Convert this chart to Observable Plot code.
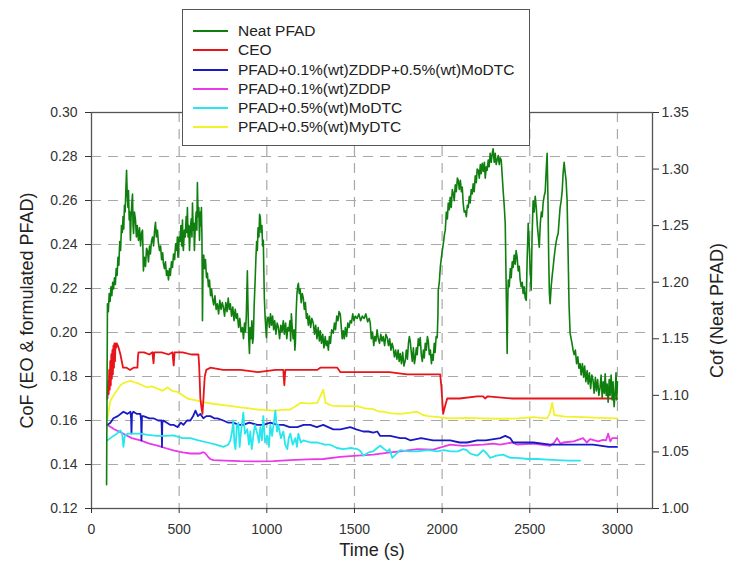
<!DOCTYPE html>
<html>
<head>
<meta charset="utf-8">
<script src="https://cdn.jsdelivr.net/npm/d3@7"></script>
<script src="https://cdn.jsdelivr.net/npm/@observablehq/plot@0.6"></script>
<style>
  html, body { margin: 0; padding: 0; background: white; }
  #wrap { position: relative; width: 729px; height: 571px; font-family: "Liberation Sans", Arial, sans-serif; }
  #legend { position: absolute; left: 182px; top: 9px; width: 346px; height: 135px; border: 1.5px solid #555; background: white; }
  .row { position: absolute; left: 0; height: 19px; display: flex; align-items: center; font-size: 15.5px; color: #222; }
  .sw { width: 35px; height: 2px; margin-left: 10px; margin-right: 10px; }
</style>
</head>
<body>
<div id="wrap"><div id="chart"></div><div id="legend"></div></div>
<script>
// ---------- data ----------
const seriesNames = ["Neat PFAD", "CEO", "PFAD+0.1%(wt)ZDDP+0.5%(wt)MoDTC", "PFAD+0.1%(wt)ZDDP", "PFAD+0.5%(wt)MoDTC", "PFAD+0.5%(wt)MyDTC"];
const seriesColors = ["#0f7f0f", "#e8141a", "#1a1ac4", "#e83ae8", "#28e6ee", "#f2f22a"];

const xTicks = [0, 500, 1000, 1500, 2000, 2500, 3000];
const leftTicks = [0.12, 0.14, 0.16, 0.18, 0.20, 0.22, 0.24, 0.26, 0.28, 0.30];
const rightTicks = [1.00, 1.05, 1.10, 1.15, 1.20, 1.25, 1.30, 1.35];

// Neat PFAD (right axis units)
const neatT = [86,91,96,101,106,111,116,121,126,131,136,141,146,151,156,161,166,171,176,180,184,188,192,196,200,204,208,211,215,219,222,226,230,234,237,240,245,251,256,261,268,274,280,286,291,294,296,302,308,314,319,325,331,336,342,348,354,360,365,370,376,382,388,394,400,406,410,416,422,428,434,439,445,450,456,462,468,474,480,486,490,493,496,500,505,510,515,519,522,524,530,535,540,544,547,551,555,559,564,569,573,576,580,584,587,592,597,601,604,608,612,616,620,624,627,630,633,636,640,645,650,656,661,667,673,679,685,690,697,704,711,718,725,732,739,746,752,759,766,773,780,786,792,799,806,813,820,826,832,839,846,853,861,867,873,878,883,889,893,897,901,905,910,915,919,923,928,933,938,942,946,950,955,959,963,967,972,976,980,983,986,990,994,998,1003,1009,1015,1021,1027,1033,1039,1045,1052,1059,1066,1073,1080,1087,1094,1100,1107,1114,1120,1126,1132,1136,1140,1145,1150,1156,1160,1163,1167,1172,1176,1180,1185,1190,1196,1202,1208,1214,1220,1226,1231,1237,1243,1250,1257,1265,1272,1279,1286,1293,1300,1305,1312,1319,1326,1333,1339,1345,1351,1357,1363,1370,1379,1386,1392,1399,1406,1412,1419,1425,1430,1436,1442,1448,1455,1462,1469,1476,1483,1490,1497,1505,1515,1525,1535,1545,1555,1565,1575,1584,1590,1596,1603,1610,1616,1622,1629,1636,1643,1650,1657,1664,1672,1679,1687,1694,1701,1708,1715,1721,1728,1735,1742,1749,1755,1761,1768,1775,1782,1790,1796,1802,1808,1813,1818,1824,1830,1836,1842,1847,1853,1858,1864,1869,1875,1881,1887,1893,1898,1904,1910,1916,1921,1927,1933,1939,1944,1949,1955,1960,1966,1972,1976,1978,1984,1990,1996,2001,2007,2013,2018,2024,2030,2035,2041,2046,2052,2058,2064,2069,2075,2081,2087,2092,2098,2104,2110,2115,2120,2126,2132,2138,2144,2149,2155,2160,2166,2172,2177,2183,2189,2195,2200,2206,2212,2218,2223,2229,2235,2241,2246,2252,2257,2263,2268,2274,2280,2286,2291,2297,2303,2308,2314,2320,2326,2331,2337,2342,2348,2354,2360,2365,2371,2374,2377,2383,2389,2394,2400,2405,2411,2417,2422,2428,2434,2440,2445,2451,2457,2462,2468,2474,2480,2485,2491,2496,2502,2508,2513,2519,2525,2531,2537,2543,2549,2554,2560,2566,2571,2576,2582,2588,2594,2599,2604,2608,2612,2616,2622,2628,2633,2639,2645,2651,2656,2662,2668,2673,2679,2685,2690,2696,2701,2707,2713,2718,2724,2730,2736,2741,2747,2753,2760,2767,2774,2780,2787,2793,2800,2807,2813,2820,2827,2833,2840,2847,2854,2861,2867,2874,2880,2887,2894,2901,2907,2913,2919,2925,2930,2936,2941,2947,2953,2958,2964,2970,2975,2981,2987,2992,2996,3000];
const neatV = [1.021,1.181,1.174,1.190,1.183,1.196,1.188,1.200,1.194,1.204,1.198,1.212,1.206,1.222,1.215,1.236,1.228,1.250,1.244,1.258,1.247,1.268,1.262,1.282,1.299,1.276,1.266,1.281,1.255,1.262,1.237,1.258,1.270,1.278,1.250,1.243,1.262,1.255,1.240,1.250,1.237,1.248,1.232,1.244,1.246,1.226,1.210,1.222,1.214,1.230,1.228,1.218,1.232,1.225,1.236,1.240,1.232,1.246,1.253,1.240,1.246,1.234,1.228,1.232,1.220,1.226,1.217,1.212,1.218,1.206,1.210,1.202,1.212,1.206,1.218,1.213,1.225,1.220,1.234,1.228,1.240,1.222,1.225,1.240,1.236,1.250,1.232,1.255,1.232,1.228,1.246,1.240,1.258,1.244,1.266,1.240,1.250,1.228,1.248,1.256,1.240,1.270,1.246,1.252,1.228,1.250,1.262,1.246,1.288,1.258,1.266,1.237,1.262,1.250,1.266,1.240,1.166,1.214,1.224,1.212,1.220,1.204,1.208,1.196,1.202,1.188,1.194,1.186,1.180,1.188,1.176,1.181,1.172,1.184,1.176,1.182,1.178,1.170,1.182,1.174,1.186,1.176,1.181,1.170,1.178,1.166,1.176,1.168,1.172,1.160,1.168,1.156,1.160,1.150,1.164,1.156,1.170,1.210,1.176,1.150,1.137,1.160,1.150,1.166,1.146,1.151,1.180,1.200,1.222,1.236,1.228,1.248,1.240,1.260,1.257,1.244,1.250,1.232,1.237,1.210,1.186,1.170,1.160,1.151,1.168,1.169,1.160,1.172,1.162,1.170,1.158,1.166,1.154,1.164,1.160,1.150,1.162,1.156,1.166,1.154,1.164,1.150,1.160,1.157,1.166,1.148,1.172,1.160,1.150,1.158,1.140,1.146,1.172,1.190,1.196,1.199,1.190,1.194,1.182,1.190,1.186,1.176,1.182,1.168,1.172,1.162,1.170,1.160,1.168,1.164,1.154,1.162,1.150,1.160,1.148,1.157,1.146,1.154,1.142,1.152,1.144,1.148,1.140,1.152,1.146,1.158,1.155,1.164,1.158,1.170,1.166,1.174,1.172,1.160,1.150,1.157,1.150,1.160,1.152,1.164,1.160,1.166,1.164,1.172,1.166,1.170,1.168,1.172,1.166,1.170,1.168,1.172,1.165,1.168,1.164,1.150,1.156,1.144,1.152,1.148,1.158,1.150,1.146,1.154,1.148,1.152,1.144,1.154,1.151,1.144,1.150,1.140,1.146,1.142,1.134,1.140,1.132,1.140,1.130,1.137,1.128,1.138,1.126,1.131,1.140,1.132,1.146,1.152,1.148,1.138,1.130,1.142,1.128,1.133,1.142,1.136,1.150,1.144,1.151,1.136,1.130,1.140,1.133,1.146,1.140,1.152,1.148,1.136,1.140,1.128,1.136,1.131,1.146,1.138,1.152,1.151,1.170,1.193,1.200,1.214,1.222,1.228,1.234,1.242,1.246,1.262,1.256,1.270,1.264,1.275,1.266,1.282,1.278,1.272,1.286,1.280,1.292,1.290,1.282,1.290,1.280,1.284,1.270,1.262,1.263,1.258,1.268,1.266,1.276,1.270,1.282,1.278,1.287,1.280,1.294,1.288,1.300,1.299,1.292,1.304,1.296,1.305,1.298,1.306,1.292,1.302,1.299,1.308,1.302,1.314,1.306,1.314,1.318,1.306,1.314,1.304,1.308,1.312,1.304,1.310,1.308,1.296,1.281,1.268,1.252,1.200,1.137,1.180,1.202,1.196,1.212,1.204,1.218,1.213,1.224,1.216,1.228,1.222,1.210,1.214,1.202,1.196,1.200,1.190,1.196,1.186,1.184,1.220,1.252,1.236,1.212,1.193,1.240,1.272,1.262,1.276,1.266,1.250,1.240,1.231,1.252,1.262,1.258,1.270,1.276,1.280,1.300,1.314,1.270,1.220,1.190,1.181,1.196,1.206,1.213,1.222,1.230,1.236,1.240,1.243,1.256,1.266,1.272,1.281,1.296,1.306,1.298,1.290,1.272,1.230,1.180,1.155,1.150,1.146,1.140,1.136,1.140,1.128,1.134,1.124,1.128,1.118,1.128,1.116,1.126,1.112,1.122,1.110,1.120,1.106,1.118,1.113,1.102,1.116,1.104,1.114,1.100,1.107,1.118,1.098,1.112,1.102,1.119,1.100,1.110,1.094,1.114,1.100,1.118,1.096,1.112,1.090,1.102,1.120,1.096,1.112];

// CEO (left axis)
const ceoT = [91,95,98,101,104,107,110,113,116,119,122,125,128,131,134,137,140,145,150,155,165,175,180,200,220,240,262,265,268,300,330,348,351,354,358,400,440,462,465,469,474,520,570,610,614,621,627,633,640,646,655,678,750,850,950,1050,1094,1097,1100,1103,1106,1200,1288,1305,1402,1419,1500,1600,1700,1800,1900,1989,1995,2006,2015,2029,2100,2200,2234,2245,2260,2400,2600,2800,2998];
const ceoV = [0.170,0.178,0.172,0.183,0.174,0.187,0.176,0.190,0.179,0.192,0.181,0.194,0.184,0.195,0.187,0.195,0.193,0.195,0.194,0.193,0.190,0.186,0.184,0.184,0.183,0.184,0.184,0.189,0.191,0.191,0.190,0.191,0.188,0.186,0.191,0.191,0.190,0.191,0.188,0.185,0.191,0.191,0.190,0.190,0.185,0.170,0.166,0.163,0.172,0.180,0.183,0.184,0.183,0.183,0.182,0.183,0.183,0.179,0.176,0.180,0.183,0.183,0.183,0.184,0.184,0.182,0.182,0.182,0.182,0.181,0.181,0.181,0.176,0.163,0.166,0.170,0.170,0.171,0.171,0.170,0.171,0.170,0.170,0.170,0.170];

// PFAD+0.1%(wt)ZDDP+0.5%(wt)MoDTC (left axis)
const zmT = [91,108,125,150,182,205,222,226,228,231,239,260,279,283,285,288,296,330,353,380,399,401,402,404,410,430,450,470,490,510,524,545,564,580,593,607,621,638,655,678,700,718,752,780,809,840,866,900,946,980,1020,1060,1094,1130,1174,1210,1248,1285,1322,1350,1379,1420,1476,1510,1550,1580,1607,1630,1647,1680,1704,1761,1790,1818,1880,1949,2000,2046,2100,2143,2200,2250,2331,2360,2388,2405,2450,2520,2616,2700,2804,2860,2901,2950,2998];
const zmV = [0.158,0.159,0.161,0.162,0.164,0.163,0.164,0.161,0.154,0.163,0.164,0.163,0.163,0.160,0.151,0.162,0.162,0.161,0.161,0.160,0.160,0.156,0.148,0.159,0.160,0.159,0.158,0.158,0.157,0.159,0.158,0.160,0.160,0.162,0.1645,0.162,0.163,0.161,0.162,0.162,0.161,0.161,0.160,0.159,0.159,0.158,0.158,0.159,0.158,0.158,0.159,0.158,0.158,0.157,0.157,0.158,0.158,0.157,0.158,0.157,0.156,0.156,0.157,0.156,0.155,0.155,0.1545,0.155,0.153,0.153,0.153,0.152,0.152,0.151,0.152,0.151,0.151,0.151,0.150,0.150,0.151,0.151,0.152,0.153,0.152,0.150,0.150,0.150,0.149,0.149,0.149,0.149,0.1486,0.148,0.148];

// PFAD+0.1%(wt)ZDDP (left axis)
const zT = [91,130,182,230,279,330,376,420,467,520,564,600,621,633,642,650,665,678,695,760,849,946,1037,1134,1231,1322,1419,1516,1607,1704,1761,1858,1949,2046,2120,2177,2234,2291,2331,2400,2428,2520,2616,2640,2656,2675,2690,2750,2804,2825,2844,2890,2918,2935,2947,2960,2970,2998];
const zV = [0.158,0.156,0.154,0.152,0.151,0.1495,0.1486,0.1475,0.1464,0.1455,0.145,0.145,0.145,0.1455,0.1455,0.145,0.1435,0.1425,0.142,0.1418,0.1415,0.1414,0.1415,0.142,0.1423,0.1425,0.1435,0.144,0.1445,0.1455,0.146,0.147,0.1468,0.149,0.1485,0.1488,0.149,0.1495,0.149,0.150,0.149,0.1495,0.1485,0.150,0.152,0.1495,0.150,0.1505,0.152,0.150,0.1515,0.1505,0.1512,0.151,0.154,0.1505,0.152,0.152];

// PFAD+0.5%(wt)MoDTC (left axis)
const mT = [91,108,125,145,165,175,182,190,205,240,279,320,376,420,467,520,564,610,661,710,752,780,792,802,809,815,821,830,838,845,849,856,866,875,889,898,906,914,923,932,946,955,963,972,980,990,1003,1012,1020,1030,1049,1058,1066,1080,1094,1105,1117,1125,1134,1148,1163,1172,1180,1194,1208,1250,1288,1330,1362,1400,1436,1480,1516,1535,1550,1580,1607,1630,1647,1670,1687,1700,1716,1740,1761,1810,1858,1920,1972,2010,2046,2090,2120,2140,2160,2180,2200,2215,2234,2255,2274,2310,2348,2390,2428,2490,2542,2600,2656,2720,2787];
const mV = [0.151,0.152,0.153,0.154,0.1555,0.154,0.148,0.153,0.154,0.154,0.154,0.1535,0.153,0.153,0.1532,0.152,0.152,0.151,0.150,0.149,0.148,0.149,0.151,0.155,0.160,0.150,0.147,0.158,0.159,0.148,0.152,0.157,0.1636,0.154,0.156,0.149,0.155,0.147,0.153,0.158,0.154,0.150,0.157,0.151,0.162,0.150,0.153,0.148,0.158,0.153,0.1645,0.155,0.158,0.152,0.155,0.149,0.147,0.152,0.154,0.149,0.152,0.148,0.154,0.150,0.151,0.150,0.150,0.149,0.149,0.1475,0.147,0.1475,0.147,0.146,0.144,0.1455,0.146,0.1475,0.1485,0.147,0.146,0.147,0.143,0.145,0.1465,0.146,0.146,0.1465,0.146,0.1465,0.146,0.146,0.147,0.1465,0.145,0.1445,0.144,0.145,0.1465,0.145,0.143,0.144,0.1445,0.143,0.143,0.1425,0.1425,0.1422,0.142,0.1418,0.1418];

// PFAD+0.5%(wt)MyDTC (left axis)
const yT = [91,108,130,148,165,182,200,222,240,262,290,319,345,376,405,433,460,490,520,547,575,604,630,661,700,752,800,849,900,946,990,1037,1085,1134,1165,1191,1240,1288,1305,1322,1335,1370,1419,1470,1516,1560,1607,1640,1664,1710,1761,1810,1858,1890,1921,1980,2046,2140,2234,2330,2428,2520,2599,2615,2628,2640,2700,2804,2900,2998];
const yV = [0.161,0.169,0.172,0.174,0.176,0.177,0.1775,0.178,0.1775,0.177,0.176,0.175,0.1755,0.1745,0.1735,0.175,0.1735,0.173,0.1715,0.170,0.1695,0.169,0.1685,0.168,0.1675,0.167,0.1665,0.166,0.1655,0.165,0.1648,0.1645,0.1648,0.165,0.1665,0.168,0.1678,0.168,0.171,0.174,0.168,0.1668,0.1665,0.1665,0.1665,0.1655,0.1652,0.164,0.164,0.1632,0.163,0.1635,0.164,0.1625,0.162,0.1615,0.161,0.1612,0.161,0.1608,0.161,0.1615,0.161,0.1635,0.168,0.1625,0.1618,0.1615,0.1612,0.161];

// ---------- helpers ----------
const yLeft = [0.12, 0.30], yRight = [1.00, 1.35];
const toLeft = r => yLeft[0] + (r - yRight[0]) * (yLeft[1] - yLeft[0]) / (yRight[1] - yRight[0]);
const fromLeft = l => yRight[0] + (l - yLeft[0]) * (yRight[1] - yRight[0]) / (yLeft[1] - yLeft[0]);
const rows = (T, V, f = v => v) => T.map((t, i) => ({t, v: f(V[i])}));

const neat = rows(neatT, neatV, toLeft);
const ceo = rows(ceoT, ceoV);
const zm = rows(zmT, zmV);
const zd = rows(zT, zV);
const mo = rows(mT, mV);
const my = rows(yT, yV);

const gridYTicks = leftTicks.slice(1, -1);
const gridXTicks = xTicks.slice(1);

const chart = Plot.plot({
  width: 729, height: 571,
  marginLeft: 91, marginRight: 77, marginTop: 112, marginBottom: 63,
  x: {domain: [0, 3200]},
  y: {domain: yLeft},
  style: {fontFamily: "'Liberation Sans', Arial, sans-serif", fontSize: "14px", color: "#333", background: "white", overflow: "visible"},
  marks: [
    Plot.gridY(gridYTicks, {stroke: "#a8a8a8", strokeOpacity: 1, strokeDasharray: "10,7", strokeWidth: 1.2}),
    Plot.gridX(gridXTicks, {stroke: "#a8a8a8", strokeOpacity: 1, strokeDasharray: "10,7", strokeWidth: 1.2}),
    Plot.line(my, {x: "t", y: "v", stroke: seriesColors[5], strokeWidth: 1.8}),
    Plot.line(zd, {x: "t", y: "v", stroke: seriesColors[3], strokeWidth: 1.8}),
    Plot.line(zm, {x: "t", y: "v", stroke: seriesColors[2], strokeWidth: 1.8}),
    Plot.line(mo, {x: "t", y: "v", stroke: seriesColors[4], strokeWidth: 1.8}),
    Plot.line(ceo, {x: "t", y: "v", stroke: seriesColors[1], strokeWidth: 1.8}),
    Plot.line(neat, {x: "t", y: "v", stroke: seriesColors[0], strokeWidth: 1.6}),
    Plot.frame({stroke: "#555", strokeWidth: 1.3}),
    Plot.axisX({ticks: xTicks, tickSize: 5, tickPadding: 11, label: null, tickFormat: d => String(d)}),
    Plot.axisY({ticks: leftTicks, anchor: "left", tickSize: 6, tickPadding: 8, label: null, tickFormat: d => d.toFixed(2)}),
    Plot.axisY({ticks: rightTicks.map(toLeft), anchor: "right", tickSize: 6, tickPadding: 3, label: null, tickFormat: d => fromLeft(d).toFixed(2)}),
    Plot.text(["Time (s)"], {frameAnchor: "bottom", dy: 47, fontSize: 18, fill: "#222"}),
    Plot.text(["CoF (EO & formulated PFAD)"], {frameAnchor: "left", textAnchor: "middle", dx: -64, rotate: -90, fontSize: 18, fill: "#222"}),
    Plot.text(["Cof (Neat PFAD)"], {frameAnchor: "right", textAnchor: "middle", dx: 65, rotate: -90, fontSize: 18, fill: "#222"})
  ]
});
document.getElementById("chart").appendChild(chart);

// legend
const legend = document.getElementById("legend");
const rowTops = [11, 30, 50, 69, 88, 107];
seriesNames.forEach((name, i) => {
  const r = document.createElement("div");
  r.className = "row";
  r.style.top = rowTops[i] + "px";
  const sw = document.createElement("div");
  sw.className = "sw";
  sw.style.background = seriesColors[i];
  const lab = document.createElement("span");
  lab.textContent = name;
  r.appendChild(sw); r.appendChild(lab);
  legend.appendChild(r);
});
</script>
</body>
</html>
